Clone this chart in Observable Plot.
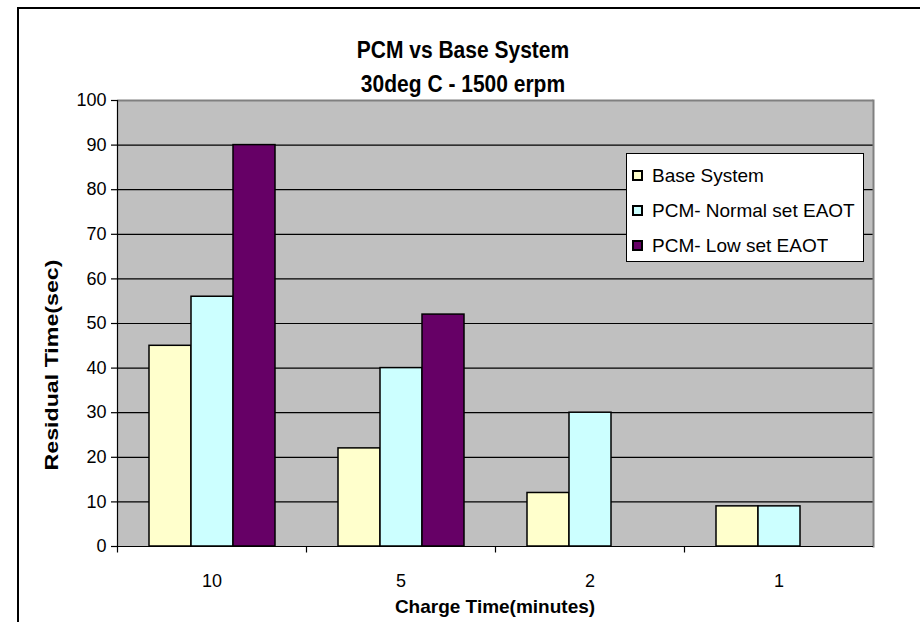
<!DOCTYPE html>
<html><head><meta charset="utf-8">
<script src="https://cdn.jsdelivr.net/npm/d3@7"></script>
<script src="https://cdn.jsdelivr.net/npm/@observablehq/plot@0.6"></script>
<style>
body{margin:0;background:#fff;font-family:"Liberation Sans",Arial,sans-serif;color:#000;}
#wrap{position:relative;width:920px;height:622px;overflow:hidden;background:#fff;}
#border{position:absolute;left:17px;top:7px;width:1000px;height:1000px;border-left:2px solid #000;border-top:2px solid #000;box-sizing:border-box;}
#chart{position:absolute;left:0;top:0;}
.t{position:absolute;left:0;width:926px;text-align:center;font-weight:bold;font-size:21px;line-height:21px;white-space:nowrap;transform:scaleY(1.18);transform-origin:50% 80%;}
#ytitle{position:absolute;left:51px;top:365px;transform:translate(-50%,-50%) rotate(-90deg) scaleX(1.22);font-weight:bold;font-size:19px;line-height:19px;white-space:nowrap;}
#xtitle{position:absolute;left:495px;top:597px;transform:translateX(-50%);font-weight:bold;font-size:19px;line-height:19px;white-space:nowrap;}
#legend{position:absolute;left:626px;top:153px;width:238px;height:109px;box-sizing:border-box;border:1px solid #000;background:#fff;padding:4px 0 0 6px;}
#legend [class$="-swatch"]{height:35px !important;display:flex !important;align-items:center !important;font-size:19px !important;padding:0 !important;margin:0 !important;white-space:nowrap;}
#legend [class$="-swatch"] svg{margin-right:10px !important;}
#legend [class$="-swatch"] svg rect{stroke:#000;stroke-width:2px;}
</style>
</head>
<body>
<div id="wrap">
  <div id="border"></div>
  <div id="chart"></div>
  <div class="t" style="top:40px">PCM vs Base System</div>
  <div class="t" style="top:74px">30deg C - 1500 erpm</div>
  <div id="ytitle">Residual Time(sec)</div>
  <div id="xtitle">Charge Time(minutes)</div>
  <div id="legend"></div>
</div>
<script>
const groups = ["10", "5", "2", "1"];
const seriesNames = ["Base System", "PCM- Normal set EAOT", "PCM- Low set EAOT"];
const baseSystem = [45, 22, 12, 9];
const pcmNormal = [56, 40, 30, 9];
const pcmLow = [90, 52, null, null];
const seriesColors = ["#FFFFCC", "#CCFFFF", "#660066"];
const yTicks = [0, 10, 20, 30, 40, 50, 60, 70, 80, 90, 100];

const seriesValues = [baseSystem, pcmNormal, pcmLow];
const rows = [];
groups.forEach((g, gi) => {
  seriesNames.forEach((s, si) => {
    const v = seriesValues[si][gi];
    if (v != null) rows.push({group: g, series: s, value: v});
  });
});

const tickDown = {draw(context, size) { const l = Math.sqrt(size / Math.PI); context.moveTo(0, 0); context.lineTo(0, l); }};

const chart = Plot.plot({
  width: 920,
  height: 622,
  marginLeft: 117,
  marginRight: 47,
  marginTop: 100,
  marginBottom: 76,
  style: {fontFamily: "Liberation Sans, Arial, sans-serif", fontSize: "18px", color: "#000", background: "transparent", overflow: "visible"},
  fx: {domain: groups, padding: 0, label: null},
  x: {domain: seriesNames, paddingInner: 0, paddingOuter: 0.71, axis: null},
  y: {domain: [0, 100], label: null},
  color: {domain: seriesNames, range: seriesColors},
  marks: [
    Plot.frame({fill: "#C0C0C0", stroke: "none", shapeRendering: "crispEdges"}),
    Plot.gridY(yTicks.filter(t => t > 0 && t < 100), {stroke: "#000", strokeOpacity: 1, strokeWidth: 1.2}),
    Plot.ruleY([100], {stroke: "#808080", strokeWidth: 2}),
    Plot.frame({anchor: "right", facetAnchor: "right", stroke: "#808080", strokeWidth: 2}),
    Plot.barY(rows, {fx: "group", x: "series", y: "value", fill: "series", stroke: "#000", strokeWidth: 1.5}),
    Plot.ruleY([0], {stroke: "#000", strokeWidth: 1.2}),
    Plot.frame({anchor: "left", facetAnchor: "left", stroke: "#000", strokeWidth: 1.2}),
    Plot.dot([0], {frameAnchor: "bottom-left", symbol: tickDown, r: 6, stroke: "#000", fill: "none", strokeWidth: 1.2}),
    Plot.axisY(yTicks, {tickSize: 6, tickPadding: 5, label: null, fontSize: 18, strokeWidth: 1.2}),
    Plot.axisFx({anchor: "bottom", tickSize: 0, tickPadding: 28, label: null, fontSize: 18})
  ]
});
document.getElementById("chart").appendChild(chart);

const legend = Plot.legend({
  color: {domain: seriesNames, range: seriesColors},
  legend: "swatches",
  columns: 1,
  swatchSize: 9,
  style: {fontFamily: "Liberation Sans, Arial, sans-serif", fontSize: "19px", color: "#000", background: "transparent"}
});
document.getElementById("legend").appendChild(legend);
</script>
</body></html>
